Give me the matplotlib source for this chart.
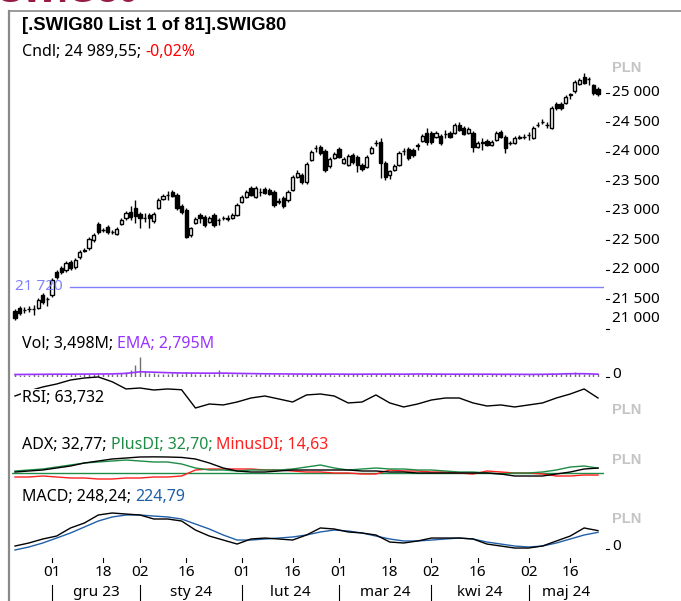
import numpy as np
import pandas as pd
import matplotlib
matplotlib.use('Agg')
import matplotlib.pyplot as plt
import matplotlib.transforms as mtrans
from matplotlib.lines import Line2D

W, H = 681, 601
FONT = ['Noto Sans', 'DejaVu Sans']
BOLD = ['Liberation Sans', 'DejaVu Sans']
plt.rcParams['font.family'] = FONT

# sesje GPW 21.11.2023 - 24.05.2024
holidays = ['2023-12-25', '2023-12-26', '2024-01-01', '2024-03-29',
            '2024-04-01', '2024-05-01', '2024-05-03']
dates = pd.bdate_range('2023-11-21', '2024-05-24', freq='C', holidays=holidays)

opens = [21305, 21356, 21315, 21335, 21345, 21356, 21576, 21500, 21576, 21966,
         22034, 22000, 22135, 22051, 22220, 22330, 22373, 22508, 22780, 22670,
         22729, 22650, 22610, 22780, 22881, 22983, 23051, 22949, 22875, 22932,
         22830, 23051, 23203, 23265, 23322, 23271, 23085, 23017, 22593, 22797,
         22932, 22898, 22813, 22932, 22840, 22875, 22880, 22881, 22932, 23153,
         23237, 23390, 23237, 23315, 23373, 23356, 23322, 23160, 23220, 23186,
         23356, 23576, 23610, 23491, 23864, 24060, 24085, 24017, 23763, 23898,
         24051, 23813, 23780, 23949, 23915, 23780, 23746, 23983, 24145, 24169,
         23813, 23610, 23695, 23780, 24010, 24051, 24034, 24095, 24186, 24322,
         24322, 24254, 24271, 24300, 24322, 24322, 24458, 24407, 24322, 24322,
         24085, 24160, 24186, 24119, 24203, 24339, 24254, 24145, 24153, 24245,
         24250, 24280, 24237, 24450, 24500, 24465, 24407, 24814, 24814, 24831,
         24960, 25034, 25153, 25271, 25230, 25136, 25068]
highs = [21339, 21390, 21373, 21390, 21407, 21525, 21610, 21542, 21864, 22000,
         22068, 22152, 22169, 22203, 22339, 22373, 22559, 22627, 22813, 22712,
         22763, 22678, 22729, 22881, 23000, 23085, 23186, 22983, 22966, 22966,
         22983, 23220, 23288, 23339, 23356, 23305, 23119, 23051, 22729, 22898,
         22966, 22932, 22915, 22966, 22881, 22915, 22932, 22966, 23136, 23271,
         23356, 23424, 23424, 23390, 23407, 23390, 23356, 23220, 23254, 23356,
         23610, 23695, 23644, 23830, 24034, 24119, 24119, 24051, 23915, 24000,
         24085, 23915, 23966, 23983, 23949, 23813, 23949, 24102, 24203, 24237,
         23847, 23695, 23797, 24017, 24068, 24085, 24068, 24153, 24305, 24407,
         24356, 24356, 24305, 24373, 24356, 24492, 24508, 24441, 24424, 24356,
         24186, 24237, 24220, 24203, 24356, 24373, 24288, 24186, 24271, 24288,
         24305, 24339, 24441, 24508, 24559, 24508, 24780, 24847, 24847, 24966,
         25000, 25220, 25254, 25339, 25271, 25153, 25102]
lows = [21153, 21237, 21271, 21288, 21237, 21339, 21424, 21390, 21542, 21847,
        21932, 21966, 22000, 22017, 22186, 22305, 22339, 22475, 22610, 22644,
        22610, 22610, 22593, 22763, 22847, 22847, 22797, 22712, 22813, 22712,
        22797, 23034, 23186, 23186, 23237, 23017, 22949, 22542, 22559, 22780,
        22797, 22729, 22797, 22729, 22763, 22847, 22830, 22864, 22915, 23136,
        23220, 23254, 23220, 23254, 23288, 23271, 23068, 23119, 23051, 23153,
        23339, 23559, 23458, 23458, 23847, 24000, 23949, 23661, 23729, 23881,
        23898, 23797, 23763, 23797, 23661, 23678, 23729, 23966, 24102, 23559,
        23525, 23542, 23678, 23763, 23949, 23864, 23915, 24034, 24169, 24119,
        24136, 24237, 24119, 24237, 24237, 24305, 24356, 24288, 24305, 24000,
        24068, 24034, 24102, 24102, 24186, 24237, 23983, 24119, 24136, 24220,
        24220, 24203, 24220, 24424, 24475, 24407, 24390, 24712, 24712, 24814,
        24898, 25000, 25136, 25153, 25136, 24966, 24949]
closes = [21186, 21271, 21325, 21345, 21335, 21491, 21457, 21515, 21830, 21881,
          21966, 22119, 22034, 22169, 22305, 22345, 22525, 22593, 22644, 22685,
          22644, 22640, 22695, 22847, 22966, 22898, 22915, 22881, 22885, 22881,
          22949, 23186, 23254, 23275, 23254, 23051, 22983, 22559, 22712, 22864,
          22881, 22763, 22881, 22763, 22855, 22885, 22870, 22932, 23102, 23237,
          23322, 23271, 23390, 23330, 23305, 23288, 23102, 23175, 23085, 23322,
          23576, 23644, 23491, 23797, 24000, 24075, 23983, 23695, 23881, 23966,
          23915, 23881, 23932, 23830, 23780, 23712, 23915, 24068, 24160, 23813,
          23576, 23678, 23763, 23983, 24025, 23898, 23949, 24110, 24271, 24169,
          24169, 24322, 24153, 24310, 24254, 24458, 24373, 24305, 24390, 24085,
          24153, 24175, 24119, 24169, 24322, 24254, 24068, 24160, 24237, 24260,
          24260, 24295, 24407, 24465, 24515, 24450, 24746, 24746, 24746, 24932,
          24975, 25186, 25220, 25169, 25245, 24995, 24990]

# wolumen w mln
volume = [2.6, 2.4, 2.2, 2.5, 2.8, 2.4, 3.0, 2.7, 3.3, 2.9,
          2.6, 2.4, 2.8, 3.1, 2.5, 2.7, 3.2, 3.0, 3.6, 2.8,
          3.0, 2.6, 3.4, 4.2, 5.5, 6.8, 12.5, 20.0, 6.5, 4.2,
          3.8, 3.3, 3.0, 3.4, 3.6, 4.0, 3.2, 4.8, 3.6, 3.1,
          2.9, 3.3, 2.7, 3.0, 7.2, 3.5, 2.8, 2.6, 3.0, 2.9,
          2.7, 2.5, 3.1, 2.8, 2.6, 2.9, 3.2, 2.8, 2.5, 2.7,
          3.0, 2.6, 2.8, 3.3, 2.9, 2.7, 2.6, 3.4, 2.8, 2.5,
          2.7, 2.9, 2.6, 2.8, 3.0, 2.7, 2.5, 2.9, 3.1, 3.3,
          2.9, 2.6, 2.7, 2.8, 2.5, 2.7, 2.6, 2.9, 3.0, 4.2,
          2.8, 2.6, 2.9, 2.7, 2.5, 2.8, 3.0, 2.6, 2.7, 3.2,
          2.8, 2.6, 2.5, 2.7, 2.9, 2.6, 3.1, 2.7, 2.5, 2.6,
          2.4, 2.8, 2.9, 2.7, 2.6, 2.8, 3.6, 3.2, 3.4, 4.5,
          3.8, 4.6, 4.0, 3.5, 3.2, 3.0, 3.5]

# wskazniki odczytane co 3 sesje
ind_idx = np.arange(0, 127, 3)
vol_ema = [2.5, 2.6, 2.7, 2.8, 2.8, 2.9, 3.0, 3.1, 3.6, 5.2, 4.8, 4.3, 4.0, 3.9, 3.8,
           3.9, 3.6, 3.4, 3.2, 3.1, 3.0, 2.9, 2.9, 2.9, 2.8, 2.8, 2.9, 2.9, 2.8, 3.0,
           2.9, 2.8, 2.8, 2.8, 2.8, 2.7, 2.7, 2.6, 2.7, 2.9, 3.3, 3.3, 2.8]
rsi = [66.2, 72.5, 77.5, 81.2, 86.2, 88.7, 90.0, 84.0, 75.0, 76.2, 73.7, 75.0, 74.0, 51.2, 56.2,
       55.0, 58.7, 63.7, 66.2, 62.5, 58.7, 67.5, 68.7, 66.2, 57.5, 58.7, 67.5, 57.5, 52.5, 56.2,
       61.2, 63.7, 63.7, 57.5, 53.7, 55.0, 52.5, 55.0, 57.5, 63.7, 68.7, 75.0, 63.7]
adx = [22.6, 25.2, 27.8, 33.0, 38.2, 46.0, 51.2, 56.4, 59.0, 61.6, 62.0, 61.6, 60.5, 56.4, 46.0,
       33.0, 25.2, 22.6, 22.6, 25.2, 27.8, 27.8, 27.8, 27.8, 27.8, 25.2, 25.2, 22.6, 22.6, 20.0,
       20.0, 20.0, 20.0, 20.0, 20.0, 17.4, 12.2, 12.2, 12.2, 17.4, 22.6, 30.4, 32.8]
plus_di = [25.2, 27.8, 30.4, 35.6, 40.8, 46.0, 48.6, 51.2, 53.8, 51.2, 48.6, 48.6, 43.4, 33.0, 27.8,
           27.8, 25.2, 27.8, 27.8, 27.8, 30.4, 35.6, 40.8, 33.0, 27.8, 30.4, 33.0, 30.4, 30.4, 27.8,
           27.8, 25.2, 22.6, 22.6, 20.0, 17.4, 20.0, 20.0, 22.6, 27.8, 35.6, 38.2, 32.7]
minus_di = [9.6, 9.6, 12.2, 9.6, 7.0, 7.0, 4.4, 4.4, 7.0, 7.0, 9.6, 9.6, 12.2, 27.8, 30.4,
            30.4, 30.4, 30.4, 27.8, 27.8, 25.2, 22.6, 22.6, 20.0, 20.0, 17.4, 17.4, 27.8, 25.2, 25.2,
            22.6, 22.6, 20.0, 17.4, 25.2, 22.6, 20.0, 20.0, 17.4, 12.2, 12.2, 14.8, 14.6]
macd = [40, 81, 135, 175, 284, 351, 459, 486, 472, 459, 405, 405, 378, 256, 175,
        121, 67, 135, 148, 135, 121, 189, 284, 270, 230, 216, 189, 94, 81, 108,
        148, 148, 148, 135, 67, 40, 13, 13, 40, 108, 175, 284, 248]
macd_signal = [-13, 27, 81, 148, 216, 297, 378, 432, 459, 459, 445, 432, 405, 337, 270,
               189, 121, 121, 135, 148, 162, 189, 230, 256, 243, 216, 175, 135, 108, 108,
               121, 135, 148, 135, 94, 67, 40, 27, 40, 81, 135, 189, 225]

price_ticks = [21000, 21500, 22000, 22500, 23000, 23500, 24000, 24500, 25000]
price_line = 21720
day_ticks = ['2023-12-01', '2023-12-18', '2024-01-02', '2024-01-16', '2024-02-01', '2024-02-16',
             '2024-03-01', '2024-03-18', '2024-04-02', '2024-04-16', '2024-05-02', '2024-05-16']
month_labels = ['gru 23', 'sty 24', 'lut 24', 'mar 24', 'kwi 24', 'maj 24']

o = np.array(opens, float); c = np.array(closes, float)
hi = np.array(highs, float); lo = np.array(lows, float)
x = np.arange(len(dates))

fig = plt.figure(figsize=(W / 100, H / 100), dpi=100)
X0, X1 = 12, 604
XLIM = ((X0 - 15) / 4.627, (X1 - 15) / 4.627)


def panel(top, bottom, ylim):
    ax = fig.add_axes([X0 / W, 1 - bottom / H, (X1 - X0) / W, (bottom - top) / H])
    ax.set_xlim(XLIM)
    ax.set_ylim(ylim)
    ax.axis('off')
    ax.patch.set_alpha(0)
    return ax


# swiece
axp = panel(60, 331, (20966, 25559))
up = c >= o
body_lo = np.minimum(o, c)
body_h = np.maximum(np.abs(c - o), 10)
axp.vlines(x, lo, hi, color='black', lw=1.0, zorder=2)
axp.bar(x[up], body_h[up], bottom=body_lo[up], width=0.7, facecolor='white',
        edgecolor='black', lw=1.0, zorder=3)
axp.bar(x[~up], body_h[~up], bottom=body_lo[~up], width=0.7, facecolor='black',
        edgecolor='black', lw=1.0, zorder=3)
xl = XLIM[0] + (70 - X0) / 4.627
axp.plot([xl, XLIM[1]], [price_line, price_line], color='#8080ff', lw=1.0)
axp.text(XLIM[0] + (15 - X0) / 4.627, price_line, '21 720', color='#8080ff',
         fontsize=11, va='center', ha='left')

tr = mtrans.blended_transform_factory(fig.transFigure, axp.transData)
for v in price_ticks:
    axp.add_line(Line2D([606 / W, 609 / W], [v, v], transform=tr, color='black', lw=0.8,
                        clip_on=False))
    lab = f'{v // 1000} {v % 1000:03d}'
    if v == price_ticks[0]:
        axp.annotate(lab, xy=(612 / W, v), xycoords=tr, xytext=(0, 10),
                     textcoords='offset pixels', va='center', fontsize=11)
    else:
        axp.text(612 / W, v, lab, transform=tr, va='center', fontsize=11)

# wolumen
axv = panel(352, 377, (0, 25))
axv.vlines(x, 0, volume, color='#707070', lw=1.0)
axv.plot(ind_idx, vol_ema, color='#9933ff', lw=1.2)
trv = mtrans.blended_transform_factory(fig.transFigure, axv.transData)
axv.add_line(Line2D([606 / W, 609 / W], [0, 0], transform=trv, color='black', lw=0.8,
                    clip_on=False))
axv.annotate('0', xy=(612 / W, 0), xycoords=trv, xytext=(0, 3),
             textcoords='offset pixels', va='center', fontsize=11)

# RSI
axr = panel(372, 416, (41.2, 96.2))
axr.plot(ind_idx, rsi, color='black', lw=1.0)

# ADX
axa = panel(452, 485, (-11.2, 74.6))
axa.axhline(20, color='#1e8c46', lw=1.0)
axa.plot(ind_idx, minus_di, color='#ff2020', lw=1.0)
axa.plot(ind_idx, plus_di, color='#1e8c46', lw=1.0)
axa.plot(ind_idx, adx, color='black', lw=1.0)

# MACD
axm = panel(505, 556, (-94.5, 594))
axm.plot(ind_idx, macd_signal, color='#2060a8', lw=1.0)
axm.plot(ind_idx, macd, color='black', lw=1.0)
trm = mtrans.blended_transform_factory(fig.transFigure, axm.transData)
axm.add_line(Line2D([606 / W, 609 / W], [0, 0], transform=trm, color='black', lw=0.8,
                    clip_on=False))
axm.annotate('0', xy=(612 / W, 0), xycoords=trm, xytext=(0, 3),
             textcoords='offset pixels', va='center', fontsize=11)

# os czasu
axx = panel(556, 601, (0, 45))
day_pos = [dates.get_loc(pd.Timestamp(d)) for d in day_ticks]
for p, d in zip(day_pos, day_ticks):
    axx.plot([p, p], [39, 43], color='black', lw=0.8)
    axx.text(p, 28, d[-2:], ha='center', va='center', fontsize=11)
month_start = [i for i in range(len(dates)) if i > 0 and dates[i].month != dates[i - 1].month]
bounds = month_start + [len(dates)]
for k, lab in enumerate(month_labels):
    axx.plot([bounds[k], bounds[k]], [0, 16], color='black', lw=0.8)
    axx.text((bounds[k] + bounds[k + 1]) / 2, 9, lab, ha='center', va='center', fontsize=11)

# ramka i naglowki
axt = fig.add_axes([0, 0, 1, 1])
axt.axis('off')
axt.patch.set_alpha(0)
axt.set_xlim(0, W)
axt.set_ylim(H, 0)
axt.plot([9, 9], [11, H], color='#8a8a8a', lw=1.6)
axt.plot([9, W], [11, 11], color='#8a8a8a', lw=1.2)
axt.text(-2, 2, 'SWIG80', color='#961a48', fontsize=27, weight='bold', va='baseline',
         family=BOLD)
axt.text(22, 25, '[.SWIG80 List 1 of 81].SWIG80', fontsize=13.3, weight='bold', va='center',
         family=BOLD)


def label(xp, yp, parts, bg=False):
    bbox = dict(facecolor='white', edgecolor='none', pad=0.5) if bg else None
    t = axt.text(xp, yp, parts[0][0], color=parts[0][1], fontsize=11.5, va='center',
                 bbox=bbox)
    for s, col in parts[1:]:
        t = axt.annotate(s, xy=(1, 0), xycoords=t, va='bottom', ha='left', color=col,
                         fontsize=11.5, bbox=bbox)


label(22, 52, [('Cndl; 24 989,55; ', 'black'), ('-0,02%', '#ff0000')])
label(22, 344, [('Vol; 3,498M; ', 'black'), ('EMA; 2,795M', '#9933ff')])
label(22, 398, [('RSI; 63,732', 'black')], bg=True)
label(22, 445, [('ADX; 32,77; ', 'black'), ('PlusDI; 32,70; ', '#1e8c46'),
                ('MinusDI; 14,63', '#ff2020')])
label(22, 497, [('MACD; 248,24; ', 'black'), ('224,79', '#2060a8')])
for yp in [68, 410, 460, 519]:
    axt.text(612, yp, 'PLN', color='#c4c4c4', fontsize=10.5, weight='bold', va='center',
             family=BOLD)

fig.savefig('out.png', dpi=100)
